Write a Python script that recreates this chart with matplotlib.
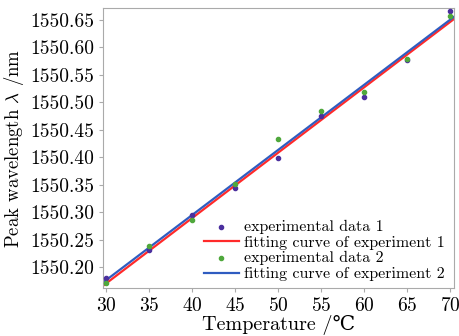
import numpy as np
import matplotlib.pyplot as plt

plt.rcParams['font.family'] = ['cmr10', 'DejaVu Serif']
plt.rcParams['mathtext.fontset'] = 'cm'
plt.rcParams['axes.formatter.use_mathtext'] = True

# data
temp = [30, 35, 40, 45, 50, 55, 60, 65, 70]
exp1 = [1550.181, 1550.231, 1550.295, 1550.343, 1550.399, 1550.475, 1550.510, 1550.577, 1550.665]
exp2 = [1550.171, 1550.239, 1550.286, 1550.351, 1550.432, 1550.484, 1550.519, 1550.579, 1550.656]
fit_x = [29.65, 70.45]
fit1 = [1550.166, 1550.651]
fit2 = [1550.172, 1550.655]

fig = plt.figure(figsize=(4.6, 3.36), dpi=100)
ax = fig.add_axes([103/460, 48/336, 351/460, 280/336])

ax.scatter(temp, exp1, s=9, color='#4b2f9e', zorder=3, label='experimental data 1')
ax.plot(fit_x, fit1, color='#ff2a2a', lw=1.6, label='fitting curve of experiment 1')
ax.scatter(temp, exp2, s=9, color='#4fa83c', zorder=3, label='experimental data 2')
ax.plot(fit_x, fit2, color='#2f5cc0', lw=1.6, label='fitting curve of experiment 2')

ax.set_xlim(29.65, 70.45)
ax.set_ylim(1550.162, 1550.671)
ax.set_xticks(np.arange(30, 71, 5))
ax.set_yticks(np.arange(1550.20, 1550.66, 0.05))
ax.set_yticklabels(['%.2f' % v for v in np.arange(1550.20, 1550.66, 0.05)])
ax.tick_params(labelsize=14, color='#aaaaaa', length=3, width=0.8)
for s in ax.spines.values():
    s.set_color('#aaaaaa')

ax.set_xlabel('Temperature /\u2103', fontsize=14.5, labelpad=0, family=['cmr10', 'DejaVu Serif'])
ax.set_ylabel(r'Peak wavelength $\lambda$ /nm', fontsize=13.5, labelpad=3)

h, l = ax.get_legend_handles_labels()
ax.legend(h, l, frameon=False, fontsize=11.5,
          loc='lower right', bbox_to_anchor=(1.0, -0.01), handlelength=2.2,
          handletextpad=0.3, labelspacing=0.1, borderaxespad=0.2)

fig.savefig('out.png', dpi=100)
